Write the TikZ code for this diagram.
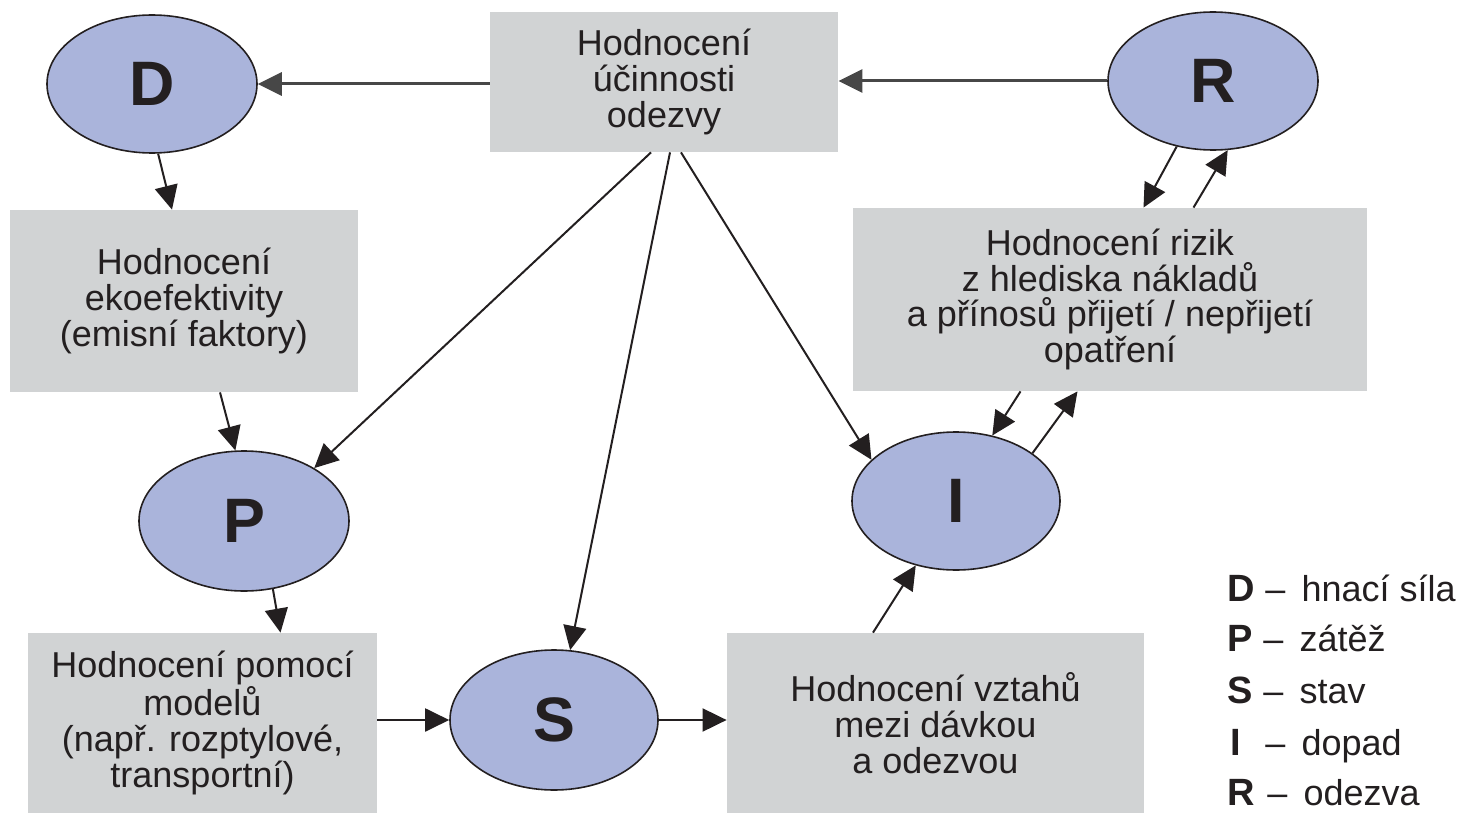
\documentclass[tikz,border=0pt]{standalone}
\usepackage{fontspec}
\setmainfont{Liberation Sans}
\usetikzlibrary{arrows.meta,shapes.geometric}
\definecolor{boxgray}{HTML}{D1D3D4}
\definecolor{ellfill}{HTML}{AAB4DB}
\definecolor{ink}{HTML}{231F20}

\begin{document}
\begin{tikzpicture}[x=0.5pt,y=-0.5pt,
  box/.style={rectangle, fill=boxgray, draw=none, align=center, inner sep=0pt,
    text=ink, font=\fontsize{18}{17.9}\selectfont},
  stage/.style={ellipse, draw=ink, line width=0.8pt, fill=ellfill, inner sep=0pt,
    minimum width=105pt, minimum height=69pt, text=ink,
    font=\bfseries\fontsize{31.4}{31.4}\selectfont},
  arr/.style={draw=ink, line width=1pt, -{Triangle[length=12pt,width=11.5pt]}},
  feed/.style={arr, draw=black!72, line width=1.5pt},
  keyletter/.style={anchor=base, inner sep=0pt, text=ink, font=\bfseries\fontsize{19}{19}\selectfont},
  keytext/.style={anchor=base west, inner sep=0pt, text=ink, font=\fontsize{18}{18}\selectfont}
]
\useasboundingbox (0,0) rectangle (1462,813);

% assessment boxes
\node[box, minimum width=174pt, minimum height=70pt] (top) at (664,82)
  {Hodnocení\\účinnosti\\odezvy};
\node[box, minimum width=174pt, minimum height=91pt] (eco) at (184,301)
  {Hodnocení\\ekoefektivity\\(emisní faktory)};
\node[box, minimum width=257pt, minimum height=91.5pt] (risk) at (1110,299.5)
  {Hodnocení rizik\\z hlediska nákladů\\a přínosů přijetí / nepřijetí\\opatření};
\node[box, minimum width=174.5pt, minimum height=90pt] (model) at (202.5,723)
  {Hodnocení pomocí\\modelů\\(např. rozptylové,\\transportní)};
\node[box, minimum width=208.5pt, minimum height=90pt] (dose) at (935.5,723)
  {Hodnocení vztahů\\mezi dávkou\\a odezvou};

% DPSIR stages
\node[stage] (D) at (152,84) {D};
\node[stage] (R) at (1213,81) {R};
\node[stage, minimum height=70pt] (P) at (244,521) {P};
\node[stage, minimum width=104pt, minimum height=70pt] (S) at (554,720) {S};
\node[stage, minimum width=104pt] (I) at (956,501) {I};

% connectors
\draw[feed] (top.west |- D.east) -- (D.east);
\draw[feed] (R.west) -- (R.west -| top.east);
\draw[arr] (D.-85) -- ([xshift=-6pt]eco.north);
\draw[arr] ([xshift=18pt]eco.south) -- (P.97);
\draw[arr] (P.-67) -- ([xshift=39pt]model.north);
\draw[arr] (model.east |- S.west) -- (S.west);
\draw[arr] (S.east) -- (S.east -| dose.west);
\draw[arr] ([xshift=-6.5pt]top.south) -- (P.37);
\draw[arr] ([xshift=3pt]top.south) -- (S.77);
\draw[arr] ([xshift=8.5pt]top.south) -- (I.154);
\draw[arr] ([xshift=-31.25pt]dose.north) -- (I.-122);
\draw[arr] (I.32) -- ([xshift=-16.25pt]risk.south);
\draw[arr] ([xshift=-44.75pt]risk.south) -- (I.61);
\draw[arr] (R.-119) -- ([xshift=16.75pt]risk.north);
\draw[arr] ([xshift=41.75pt]risk.north) -- (R.-78);

% legend
\node[keyletter] (kD) at (1241,601) {D};
\node[keytext]   (tD) at (1265,601) {–\hspace{0.45em}hnací síla};
\node[keyletter] (kP) at (1240,651) {P};
\node[keytext]   (tP) at (1263,651) {–\hspace{0.45em}zátěž};
\node[keyletter] (kS) at (1240,703) {S};
\node[keytext]   (tS) at (1263,703) {–\hspace{0.45em}stav};
\node[keyletter] (kI) at (1236,755) {I};
\node[keytext]   (tI) at (1265,755) {–\hspace{0.45em}dopad};
\node[keyletter] (kR) at (1241,805) {R};
\node[keytext]   (tR) at (1267,805) {–\hspace{0.45em}odezva};
\end{tikzpicture}
\end{document}
